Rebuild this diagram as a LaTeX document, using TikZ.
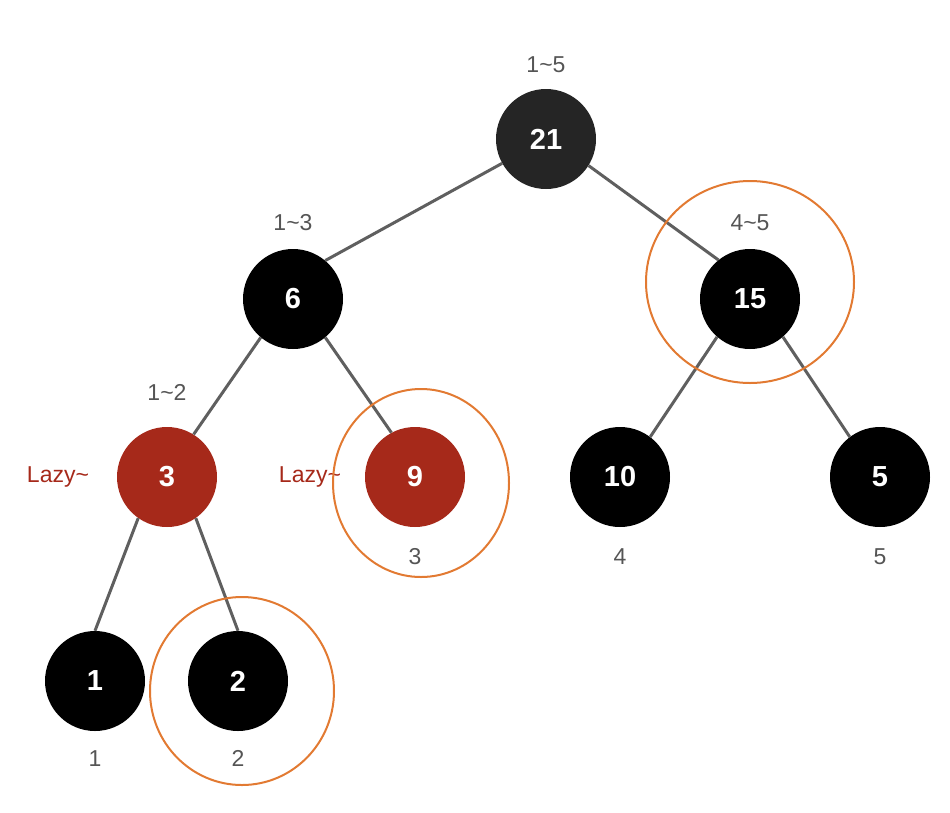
\documentclass[tikz,border=0pt]{standalone}
\usepackage{fontspec}
\setmainfont{Liberation Sans}
\usetikzlibrary{positioning}
\definecolor{segRoot}{RGB}{37,37,37}
\definecolor{segLazy}{RGB}{166,41,26}
\definecolor{segEdge}{RGB}{95,95,95}
\definecolor{segText}{RGB}{85,85,85}
\definecolor{segMark}{RGB}{226,122,50}

\begin{document}
\begin{tikzpicture}[x=1pt, y=-1pt,
  seg/.style={circle, fill=black, minimum size=100pt, inner sep=0pt,
    text=white, font=\fontsize{29}{30}\selectfont\bfseries},
  lazyseg/.style={seg, fill=segLazy},
  segrange/.style={text=segText, anchor=base, font=\fontsize{23}{24}\selectfont},
  lazytag/.style={segrange, text=segLazy},
  edge/.style={segEdge, line width=3pt},
  marked/.style={segMark, line width=2pt}]
  \useasboundingbox (0,0) rectangle (950,812);

  % tree nodes
  \node[seg, fill=segRoot] (n21) at (546,139) {21};
  \node[seg] (n6)  at (293,299) {6};
  \node[seg] (n15) at (750,299) {15};
  \node[lazyseg] (n3) at (167,477) {3};
  \node[lazyseg] (n9) at (415,477) {9};
  \node[seg] (n10) at (620,477) {10};
  \node[seg] (n5)  at (880,477) {5};
  \node[seg] (n1)  at (95,681)  {1};
  \node[seg] (n2)  at (238,681) {2};

  % edges
  \draw[edge] (n21.209) -- (n6.50);
  \draw[edge] (n21.328) -- (n15.129);
  \draw[edge] (n6.230) -- (n3.58);
  \draw[edge] (n6.310) -- (n9.118);
  \draw[edge] (n15.229) -- (n10.53);
  \draw[edge] (n15.311) -- (n5.127);
  \draw[edge] (n3.235) -- (n1.north);
  \draw[edge] (n3.305) -- (n2.north);

  % ranges
  \node[segrange] (r15) at (546,72)  {1\textasciitilde5};
  \node[segrange] (r13) at (293,230) {1\textasciitilde3};
  \node[segrange] (r45) at (750,230) {4\textasciitilde5};
  \node[segrange] (r12) at (167,400) {1\textasciitilde2};
  \node[segrange] (r3)  at (415,564) {3};
  \node[segrange] (r4)  at (620,564) {4};
  \node[segrange] (r5)  at (880,564) {5};
  \node[segrange] (r1)  at (95,766)  {1};
  \node[segrange] (r2)  at (238,766) {2};

  % lazy tags
  \node[lazytag] (lz3) at (58,482)  {Lazy\textasciitilde};
  \node[lazytag] (lz9) at (310,482) {Lazy\textasciitilde};

  % query cover
  \draw[marked] (750,282) ellipse [x radius=104, y radius=101];
  \draw[marked] (421,483) ellipse [x radius=88, y radius=94];
  \draw[marked] (242,691) ellipse [x radius=92, y radius=94];
\end{tikzpicture}
\end{document}
